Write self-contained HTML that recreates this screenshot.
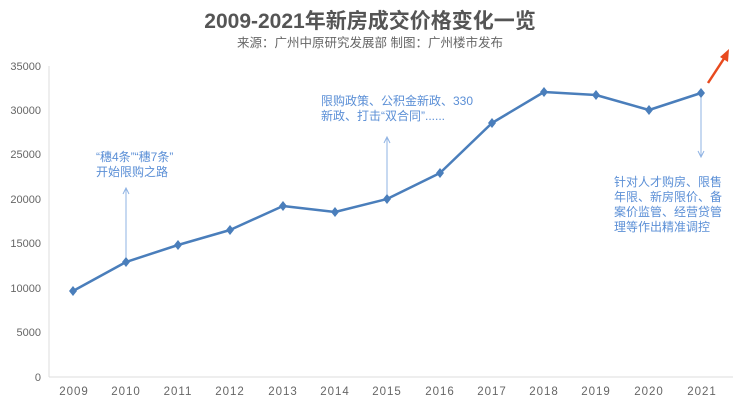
<!DOCTYPE html>
<html><head><meta charset="utf-8"><style>
body{margin:0;background:#fff;}
svg text{font-family:"Liberation Sans","Noto Sans CJK SC",sans-serif;}
</style></head><body>
<svg width="740" height="402" xmlns="http://www.w3.org/2000/svg">
<text x="370" y="28" text-anchor="middle" font-size="21" font-weight="bold" fill="#555">2009-2021年新房成交价格变化一览</text>
<text x="370" y="47" text-anchor="middle" font-size="12.5" fill="#666">来源：广州中原研究发展部 制图：广州楼市发布</text>
<line x1="49" y1="66" x2="49" y2="377" stroke="#ddd"/>
<line x1="49" y1="377" x2="733" y2="377" stroke="#ddd"/>
<g font-size="11" fill="#666" text-anchor="end">
<text x="41" y="381">0</text><text x="41" y="336">5000</text><text x="41" y="292">10000</text><text x="41" y="247">15000</text><text x="41" y="203">20000</text><text x="41" y="158">25000</text><text x="41" y="114">30000</text><text x="41" y="70">35000</text>
</g>
<g font-size="11.5" fill="#666" text-anchor="middle" letter-spacing="1">
<text x="74" y="395">2009</text><text x="126" y="395">2010</text><text x="178" y="395">2011</text><text x="230" y="395">2012</text><text x="283" y="395">2013</text><text x="335" y="395">2014</text><text x="387" y="395">2015</text><text x="440" y="395">2016</text><text x="492" y="395">2017</text><text x="544" y="395">2018</text><text x="596" y="395">2019</text><text x="649" y="395">2020</text><text x="702" y="395">2021</text>
</g>
<g stroke="#8fb3e3" stroke-width="1" fill="none">
<line x1="126" y1="260" x2="126" y2="188"/><path d="M123 194 L126 188 L129 194"/>
<line x1="387" y1="197" x2="387" y2="137"/><path d="M384 143 L387 137 L390 143"/>
<line x1="701" y1="93" x2="701" y2="157"/><path d="M698 151 L701 157 L704 151"/>
</g>
<polyline fill="none" stroke="#4a7ebb" stroke-width="2.5" stroke-linejoin="round" points="73,291 126,262 178,245 230,230 283,206 335,212 387,199 440,173 492,123 544,92 596,95 649,110 701,93"/>
<g fill="#4a7ebb">
<path d="M73,286 l4,5 l-4,5 l-4,-5z"/><path d="M126,257 l4,5 l-4,5 l-4,-5z"/><path d="M178,240 l4,5 l-4,5 l-4,-5z"/><path d="M230,225 l4,5 l-4,5 l-4,-5z"/><path d="M283,201 l4,5 l-4,5 l-4,-5z"/><path d="M335,207 l4,5 l-4,5 l-4,-5z"/><path d="M387,194 l4,5 l-4,5 l-4,-5z"/><path d="M440,168 l4,5 l-4,5 l-4,-5z"/><path d="M492,118 l4,5 l-4,5 l-4,-5z"/><path d="M544,87 l4,5 l-4,5 l-4,-5z"/><path d="M596,90 l4,5 l-4,5 l-4,-5z"/><path d="M649,105 l4,5 l-4,5 l-4,-5z"/><path d="M701,88 l4,5 l-4,5 l-4,-5z"/>
</g>
<line x1="708" y1="83" x2="725" y2="57" stroke="#e84a1e" stroke-width="2.5"/>
<path d="M729,49 L728,62 L720,57 Z" fill="#e84a1e"/>
<g font-size="12" fill="#5b8fd6">
<text x="96" y="161">“穗4条”“穗7条”</text><text x="96" y="176">开始限购之路</text>
<text x="321" y="105">限购政策、公积金新政、330</text><text x="321" y="120">新政、打击“双合同”......</text>
<text x="614" y="186">针对人才购房、限售</text><text x="614" y="201">年限、新房限价、备</text><text x="614" y="216">案价监管、经营贷管</text><text x="614" y="231">理等作出精准调控</text>
</g>
</svg>
</body></html>
